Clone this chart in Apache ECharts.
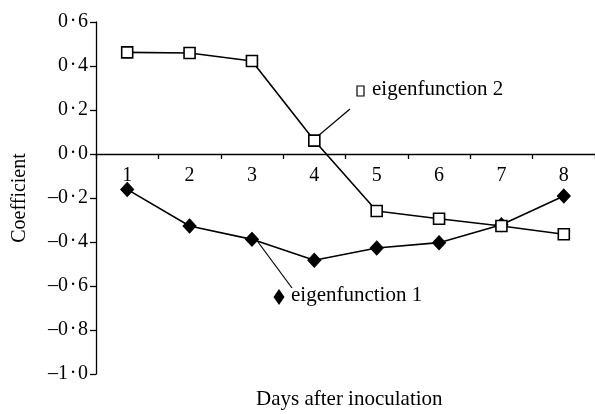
<!DOCTYPE html>
<html><head><meta charset="utf-8">
<script src="https://cdn.jsdelivr.net/npm/echarts@6/dist/echarts.min.js"></script>
<style>html,body{margin:0;padding:0;background:#fff}#c{width:595px;height:414px}</style>
</head><body><div id="c"></div>
<script>
const days = ['1','2','3','4','5','6','7','8'];
const eigen1 = [-0.161, -0.327, -0.388, -0.483, -0.427, -0.403, -0.322, -0.191];
const eigen2 = [0.462, 0.459, 0.423, 0.061, -0.259, -0.294, -0.327, -0.365];
const yTicks = {min: -1.0, max: 0.6, step: 0.2};

const FONT = 'Liberation Serif';
const fmt = v => {
  const s = Math.abs(v).toFixed(1).replace('.', '\u200A\u00B7\u200A');
  return (v < -1e-9 ? '\u2013' : '') + s;
};
const chart = echarts.init(document.getElementById('c'));
const gridTop = 22, gridBottom = 40, H = 414;
// pixel offset of the zero line above the grid bottom (for the label row)
const zeroOffset = -((H - gridTop - gridBottom) * (0 - yTicks.min) / (yTicks.max - yTicks.min));
chart.setOption({
  animation: false,
  backgroundColor: '#fff',
  textStyle: {fontFamily: FONT, color: '#000'},
  grid: {left: 96, right: -10, top: gridTop, bottom: gridBottom},
  xAxis: [{
    type: 'category', data: days, boundaryGap: true,
    axisLine: {onZero: true, lineStyle: {color: '#000', width: 1.3}},
    axisTick: {show: true, length: 5, inside: false, lineStyle: {color: '#000', width: 1.3}},
    axisLabel: {show: false}
  }, {
    type: 'category', data: days, boundaryGap: true, position: 'bottom', offset: zeroOffset,
    axisLine: {show: false, onZero: false}, axisTick: {show: false},
    axisLabel: {color: '#000', fontFamily: FONT, fontSize: 20, margin: 12}
  }],
  yAxis: {
    type: 'value', min: yTicks.min, max: yTicks.max, interval: yTicks.step,
    name: 'Coefficient', nameLocation: 'middle', nameGap: 66, nameRotate: 90,
    nameTextStyle: {fontFamily: FONT, fontSize: 20, color: '#000'},
    axisLine: {show: true, lineStyle: {color: '#000', width: 1.3}},
    axisTick: {show: true, length: 6, lineStyle: {color: '#000', width: 1.3}},
    splitLine: {show: false},
    axisLabel: {color: '#000', fontFamily: FONT, fontSize: 20, margin: 8, formatter: fmt}
  },
  series: [
    {name: 'eigenfunction 2', type: 'line', data: eigen2, symbol: 'rect', symbolSize: 11,
     lineStyle: {color: '#000', width: 1.6}, itemStyle: {color: '#fff', borderColor: '#000', borderWidth: 1.6}, z: 3},
    {name: 'eigenfunction 1', type: 'line', data: eigen1, symbol: 'diamond', symbolSize: [13, 14],
     lineStyle: {color: '#000', width: 1.6}, itemStyle: {color: '#000', borderColor: '#000', borderWidth: 1}, z: 2}
  ],
  graphic: [
    {type: 'line', shape: {x1: 318, y1: 136, x2: 350, y2: 109}, style: {stroke: '#000', lineWidth: 1.2}},
    {type: 'rect', shape: {x: 357, y: 86, width: 7, height: 10}, style: {fill: '#fff', stroke: '#000', lineWidth: 1.2}},
    {type: 'text', left: 372, top: 79, style: {text: 'eigenfunction 2', font: '21px "Liberation Serif"', fill: '#000'}},
    {type: 'line', shape: {x1: 258, y1: 242, x2: 292, y2: 288}, style: {stroke: '#000', lineWidth: 1.2}},
    {type: 'polygon', shape: {points: [[279, 289], [284.5, 297], [279, 305], [273.5, 297]]}, style: {fill: '#000'}},
    {type: 'text', left: 291, top: 285, style: {text: 'eigenfunction 1', font: '21px "Liberation Serif"', fill: '#000'}},
    {type: 'text', left: 256, top: 389, style: {text: 'Days after inoculation', font: '21px "Liberation Serif"', fill: '#000'}}
  ]
});
</script></body></html>
